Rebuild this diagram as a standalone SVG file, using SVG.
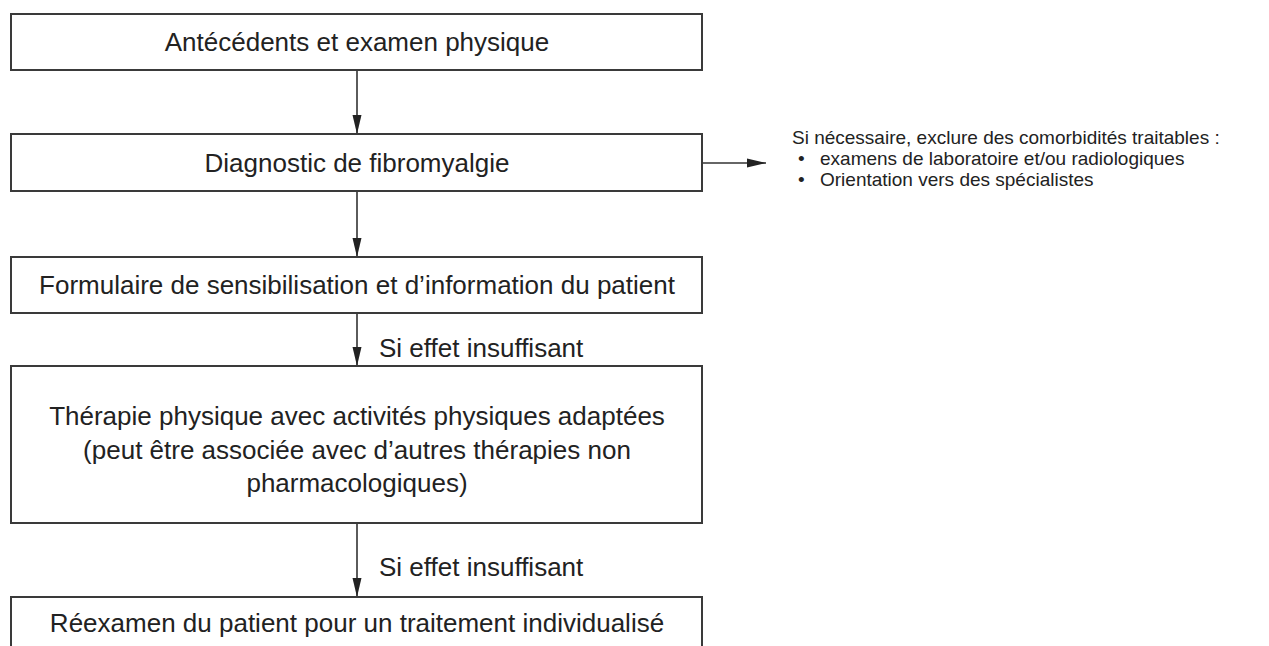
<svg xmlns="http://www.w3.org/2000/svg" width="1269" height="646" viewBox="0 0 1269 646">
<style>
.box{fill:#fff;stroke:#3a3a3a;stroke-width:2}
.t{font-family:"Liberation Sans",Arial,sans-serif;font-size:26px;fill:#222;text-anchor:middle}
.lbl{font-family:"Liberation Sans",Arial,sans-serif;font-size:26px;fill:#222}
.side{font-family:"Liberation Sans",Arial,sans-serif;font-size:19px;fill:#222}
.edge{stroke:#333;stroke-width:1.6;fill:none;marker-end:url(#ah)}
</style>
<defs>
<marker id="ah" markerWidth="19" markerHeight="10" refX="19" refY="5" orient="auto" markerUnits="userSpaceOnUse" viewBox="0 0 19 10">
<path d="M0,0.5 L19,5 L0,9.5 Z" fill="#222"/>
</marker>
</defs>
<rect width="1269" height="646" fill="#fff"/>
<g id="connectors">
<line class="edge" x1="357" y1="70" x2="357" y2="134"/>
<line class="edge" x1="357" y1="191" x2="357" y2="257"/>
<line class="edge" x1="357" y1="313" x2="357" y2="366"/>
<line class="edge" x1="357" y1="523" x2="357" y2="597"/>
<line class="edge" x1="702" y1="163" x2="766" y2="163"/>
<text class="lbl" x="379" y="357">Si effet insuffisant</text>
<text class="lbl" x="379" y="576">Si effet insuffisant</text>
</g>
<g id="n1">
<rect class="box" x="11" y="14" width="691" height="56"/>
<text class="t" x="357" y="51">Antécédents et examen physique</text>
</g>
<g id="n2">
<rect class="box" x="11" y="134" width="691" height="57"/>
<text class="t" x="357" y="172">Diagnostic de fibromyalgie</text>
</g>
<g id="n3">
<rect class="box" x="11" y="257" width="691" height="56"/>
<text class="t" x="357" y="294">Formulaire de sensibilisation et d’information du patient</text>
</g>
<g id="n4">
<rect class="box" x="11" y="366" width="691" height="157"/>
<text class="t" x="357" y="425">Thérapie physique avec activités physiques adaptées</text>
<text class="t" x="357" y="458.5">(peut être associée avec d’autres thérapies non</text>
<text class="t" x="357" y="492">pharmacologiques)</text>
</g>
<g id="n5">
<rect class="box" x="11" y="597" width="691" height="60"/>
<text class="t" x="357" y="632">Réexamen du patient pour un traitement individualisé</text>
</g>
<g id="note">
<text class="side" x="792" y="144">Si nécessaire, exclure des comorbidités traitables :</text>
<text class="side" x="798" y="165">•</text>
<text class="side" x="820" y="165">examens de laboratoire et/ou radiologiques</text>
<text class="side" x="798" y="186">•</text>
<text class="side" x="820" y="186">Orientation vers des spécialistes</text>
</g>
</svg>
